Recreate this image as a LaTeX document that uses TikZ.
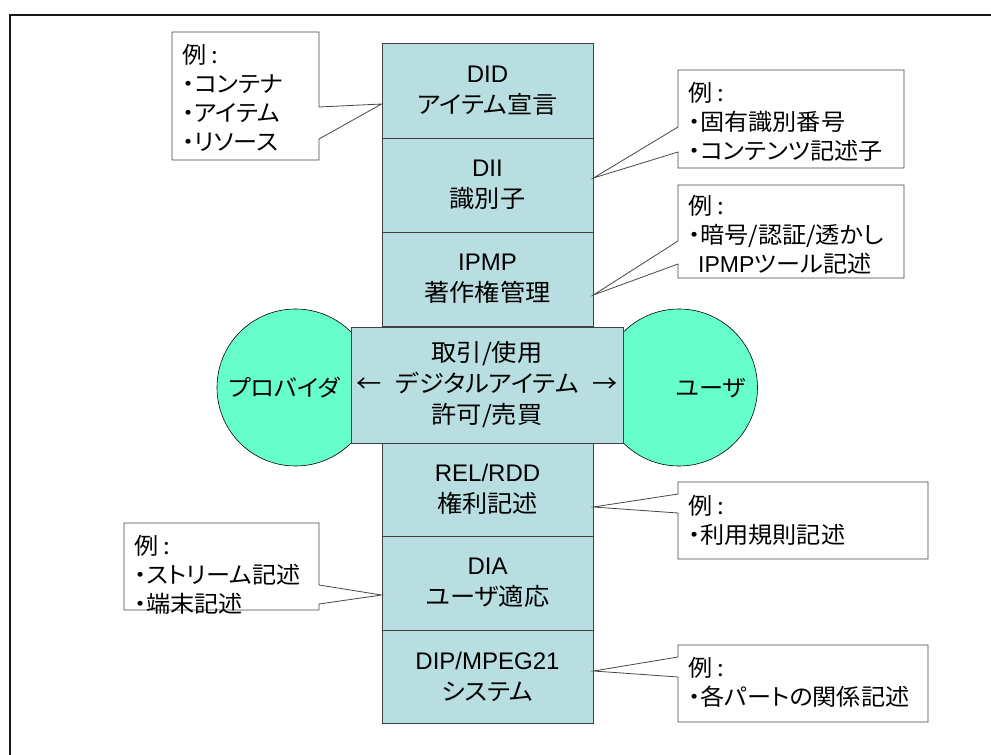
\documentclass[tikz,border=0pt]{standalone}
\usepackage{fontspec}
\setmainfont{Liberation Sans}
\newfontfamily\jp[RawFeature=+palt, FakeStretch=1.05]{Noto Sans CJK JP}
\newcommand\latn[1]{{\rmfamily #1}}
\definecolor{layerfill}{RGB}{185,222,226}
\definecolor{partyfill}{RGB}{102,255,204}
\definecolor{noteedge}{RGB}{70,70,70}
\tikzset{
  layer/.style={draw=black!75, fill=layerfill, line width=0.8pt,
    minimum width=211pt, minimum height=94pt, inner sep=0pt, align=center,
    font=\jp\fontsize{24}{31}\selectfont},
  party/.style={circle, draw=black, fill=partyfill, line width=0.6pt,
    minimum size=157pt, inner sep=0pt},
  partytext/.style={inner sep=0pt, font=\jp\fontsize{23}{28}\selectfont},
  callout/.style={draw=noteedge, fill=white, line width=0.8pt, line join=miter},
  note/.style={anchor=west, align=left, inner sep=0pt,
    font=\jp\fontsize{23}{29}\selectfont},
  frameline/.style={line width=2pt, draw=black!90}
}
\begin{document}
\begin{tikzpicture}[x=1pt,y=-1pt]
\useasboundingbox (0,0) rectangle (991,755);

% outer frame (top and left edges)
\coordinate (fr) at (991,15);
\coordinate (fc) at (10,15);
\coordinate (fb) at (10,755);
\draw[frameline] (fr) -- (fc) -- (fb);

% MPEG-21 part stack
\node[layer, minimum height=95pt] (did) at (487.5,90.5) {\latn{DID}\\アイテム宣言};
\node[layer] (dii) at (487.5,185) {\latn{DII}\\識別子};
\node[layer] (ipmp) at (487.5,279) {\latn{IPMP}\\著作権管理};
\node[layer] (rel) at (487.5,489) {\latn{REL/RDD}\\権利記述};
\node[layer] (dia) at (487.5,583) {\latn{DIA}\\ユーザ適応};
\node[layer, minimum height=93pt] (dip) at (487.5,676.5) {\latn{DIP/MPEG21}\\システム};

% provider and user
\node[party] (prov) at (295.5,387.5) {};
\node[partytext] (provlabel) at (284,388) {プロバイダ};
\node[party] (user) at (679,387.5) {};
\node[partytext] (userlabel) at (711,388) {ユーザ};

% transaction layer in the middle
\node[layer, minimum width=272pt, minimum height=116pt] (deal) at (487,385)
  {取引/使用\\←\hspace{14pt}デジタルアイテム\hspace{14pt}→\\許可/売買};

% callout tips on the stack
\coordinate (t1) at (did.west |- 0,104);
\coordinate (t2) at (dii.east |- 0,178);
\coordinate (t3) at (ipmp.east |- 0,295);
\coordinate (t4) at (rel.east |- 0,507);
\coordinate (t5) at (dia.west |- 0,595);
\coordinate (t6) at (dip.east |- 0,671);

% callouts
\draw[callout] (172,32) -- (319,32) -- (319,107) -- (t1) -- (319,139)
  -- (319,160) -- (172,160) -- cycle;
\node[note] (n1) at (182,98) {例 :\\・コンテナ\\・アイテム\\・リソース};

\draw[callout] (678,70) -- (904,70) -- (904,168) -- (678,168) -- (678,152)
  -- (t2) -- (678,127) -- cycle;
\node[note] (n2) at (688,122) {例 :\\・固有識別番号\\・コンテンツ記述子};

\draw[callout] (678,185) -- (904,185) -- (904,278) -- (678,278) -- (678,264)
  -- (t3) -- (678,241) -- cycle;
\node[note] (n3) at (688,235) {例 :\\・暗号/認証/透かし\\\hspace*{10pt}\latn{IPMP}ツール記述};

\draw[callout] (678,482) -- (928,482) -- (928,559) -- (678,559) -- (678,513)
  -- (t4) -- (678,494) -- cycle;
\node[note] (n4) at (688,520) {例 :\\・利用規則記述};

\draw[callout] (124,523) -- (319,523) -- (319,585) -- (t5) -- (319,604)
  -- (319,610) -- (124,610) -- cycle;
\node[note] (n5) at (134,575) {例 :\\・ストリーム記述\\・端末記述};

\draw[callout] (678,645) -- (928,645) -- (928,722) -- (678,722) -- (678,677)
  -- (t6) -- (678,657) -- cycle;
\node[note] (n6) at (688,682) {例 :\\・各パートの関係記述};
\end{tikzpicture}
\end{document}
